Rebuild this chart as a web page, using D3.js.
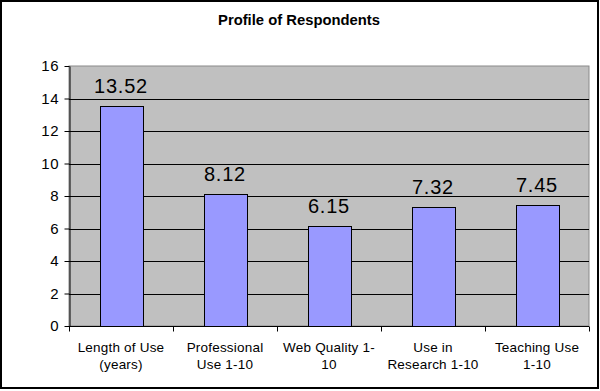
<!DOCTYPE html>
<html>
<head>
<meta charset="utf-8">
<script src="https://cdn.jsdelivr.net/npm/d3@7"></script>
<style>
  body { margin: 0; background: #fff; }
  svg { display: block; font-family: "Liberation Sans", Arial, sans-serif; }
</style>
</head>
<body>
<div id="chart"></div>
<script>
// chart data
var categories = [
  ["Length of Use", "(years)"],
  ["Professional", "Use 1-10"],
  ["Web Quality 1-", "10"],
  ["Use in", "Research 1-10"],
  ["Teaching Use", "1-10"]
];
var values = [13.52, 8.12, 6.15, 7.32, 7.45];
var yTicks = [0, 2, 4, 6, 8, 10, 12, 14, 16];

var width = 600, height = 391;
var margin = {top: 66, right: 11, bottom: 65, left: 69};
var plotW = width - margin.left - margin.right,
    plotH = height - margin.top - margin.bottom;

var svg = d3.select("#chart").append("svg")
    .attr("width", width)
    .attr("height", height);

// outer frame
svg.append("rect")
    .attr("x", 1).attr("y", 1)
    .attr("width", width - 3).attr("height", height - 4)
    .attr("fill", "#fff")
    .attr("stroke", "#000")
    .attr("stroke-width", 2);

svg.append("text")
    .attr("x", 299)
    .attr("y", 25)
    .attr("text-anchor", "middle")
    .style("font-size", "14.8px")
    .style("font-weight", "bold")
    .text("Profile of Respondents");

var g = svg.append("g")
    .attr("transform", "translate(" + margin.left + "," + margin.top + ")");

var x = d3.scaleBand()
    .domain(d3.range(categories.length))
    .range([0, plotW])
    .paddingInner(0.59)
    .paddingOuter(0.295);

var y = d3.scaleLinear()
    .domain([0, 16])
    .range([plotH, 0]);

// plot background
g.append("rect")
    .attr("x", 0).attr("y", 0)
    .attr("width", plotW).attr("height", plotH)
    .attr("fill", "#c0c0c0")
    .attr("stroke", "#8a8a8a")
    .attr("stroke-width", 1);

// gridlines
g.selectAll(".grid")
    .data(yTicks.filter(function(d) { return d > 0 && d < 16; }))
  .enter().append("line")
    .attr("class", "grid")
    .attr("x1", 0).attr("x2", plotW)
    .attr("y1", function(d) { return Math.round(y(d)) + 0.5; })
    .attr("y2", function(d) { return Math.round(y(d)) + 0.5; })
    .attr("stroke", "#000")
    .attr("stroke-width", 1);

// bars
g.selectAll(".bar")
    .data(values)
  .enter().append("rect")
    .attr("class", "bar")
    .attr("x", function(d, i) { return Math.round(x(i)) + 0.5; })
    .attr("y", function(d) { return Math.round(y(d)) + 0.5; })
    .attr("width", Math.round(x.bandwidth()))
    .attr("height", function(d) { return Math.round(y(0)) - Math.round(y(d)); })
    .attr("fill", "#9999ff")
    .attr("stroke", "#000")
    .attr("stroke-width", 1);

// value labels
g.selectAll(".val")
    .data(values)
  .enter().append("text")
    .attr("class", "val")
    .attr("x", function(d, i) { return x(i) + x.bandwidth() / 2; })
    .attr("y", function(d) { return y(d) - 13; })
    .attr("text-anchor", "middle")
    .style("font-size", "20px")
    .style("letter-spacing", "0.8px")
    .text(function(d) { return d.toFixed(2); });

// y axis
var yAxis = g.append("g")
    .attr("transform", "translate(0.5,0)")
    .call(d3.axisLeft(y).tickValues(yTicks).tickSize(5).tickPadding(5).tickSizeOuter(0));
yAxis.select(".domain").attr("stroke", "#000");
yAxis.selectAll("line").attr("stroke", "#000");
yAxis.selectAll("text")
    .style("font-size", "15px")
    .style("letter-spacing", "0.8px")
    .style("fill", "#000");

// x axis with ticks at category boundaries
var step = plotW / categories.length;
var bounds = d3.range(categories.length + 1).map(function(i) { return i * step; });
var xAxisG = g.append("g")
    .attr("transform", "translate(0," + (Math.round(plotH) + 0.5) + ")");
xAxisG.append("line")
    .attr("x1", 0).attr("x2", plotW)
    .attr("stroke", "#000");
xAxisG.selectAll(".tick")
    .data(bounds)
  .enter().append("line")
    .attr("x1", function(d) { return Math.round(d) + 0.5; })
    .attr("x2", function(d) { return Math.round(d) + 0.5; })
    .attr("y1", 0).attr("y2", 5)
    .attr("stroke", "#000");

var labels = xAxisG.selectAll(".lab")
    .data(categories)
  .enter().append("text")
    .attr("class", "lab")
    .attr("text-anchor", "middle")
    .style("font-size", "13.5px")
    .style("letter-spacing", "0.2px");
labels.each(function(d, i) {
  var t = d3.select(this);
  d.forEach(function(line, j) {
    t.append("tspan")
      .attr("x", x(i) + x.bandwidth() / 2)
      .attr("y", 25 + j * 17)
      .text(line);
  });
});
</script>
</body>
</html>
